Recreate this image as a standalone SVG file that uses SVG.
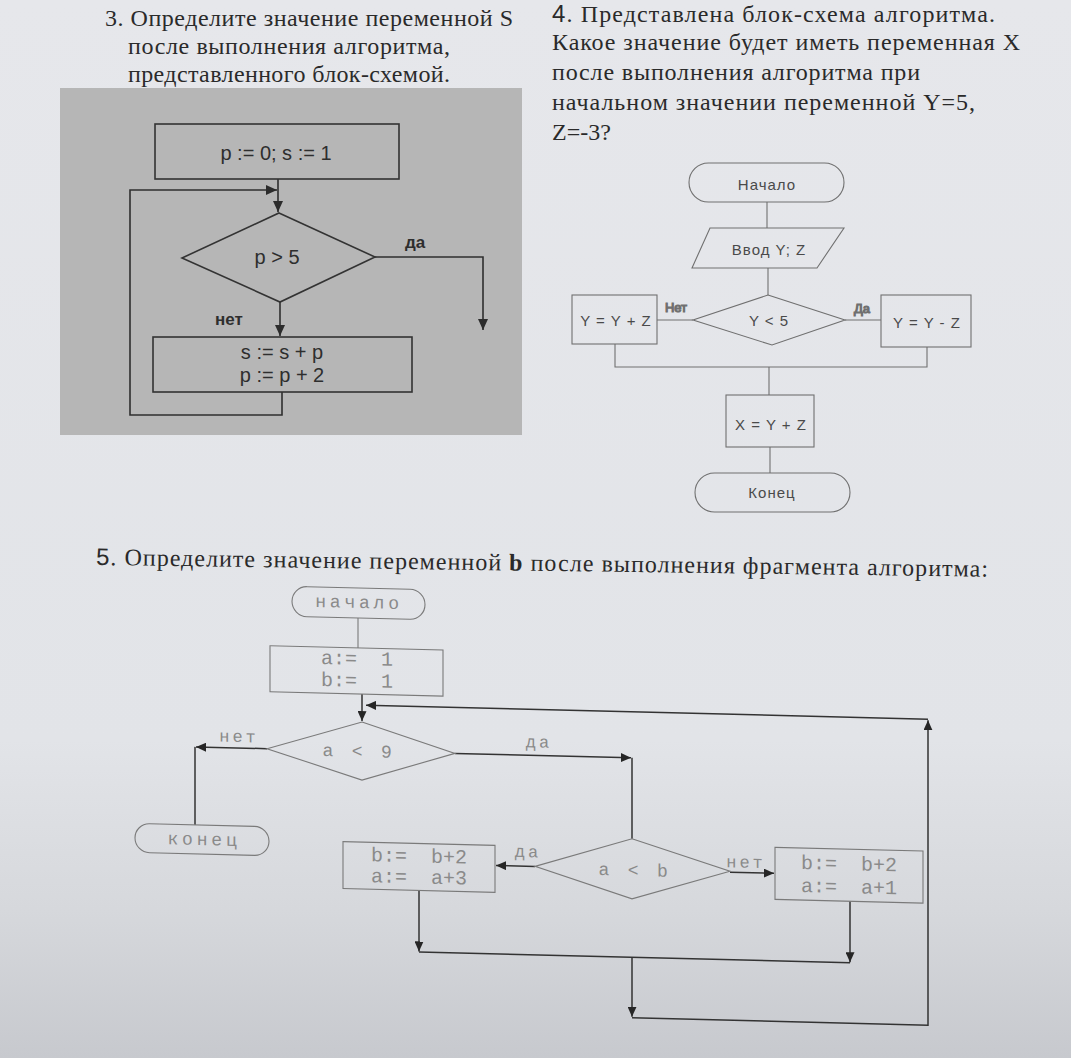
<svg xmlns="http://www.w3.org/2000/svg" width="1071" height="1058" viewBox="0 0 1071 1058">
<defs>
<linearGradient id="page" x1="0" y1="0" x2="0" y2="1">
<stop offset="0" stop-color="#e6e7eb"/>
<stop offset="0.7" stop-color="#e2e4e8"/>
<stop offset="0.86" stop-color="#d6d8dc"/>
<stop offset="1" stop-color="#c7c9ce"/>
</linearGradient>
<marker id="ah3" markerUnits="userSpaceOnUse" markerWidth="12" markerHeight="10" refX="11" refY="5" orient="auto"><path d="M0,0 L11,5 L0,10 Z" fill="#2c2c2c"/></marker>
<marker id="ah5" markerUnits="userSpaceOnUse" markerWidth="11" markerHeight="9" refX="10" refY="4.5" orient="auto"><path d="M0,0 L10,4.5 L0,9 Z" fill="#262626"/></marker>
<style>
.q{font-family:"Liberation Serif","Times New Roman",serif;font-size:24px;fill:#2a2a2a}
.sans{font-family:"Liberation Sans",Arial,sans-serif}
.b{font-weight:bold}
.d3s{fill:none;stroke:#333;stroke-width:1.6}
.d3c{fill:none;stroke:#2f2f2f;stroke-width:1.6}
.d3t{font-family:"Liberation Sans",Arial,sans-serif;font-size:20px;fill:#2e2e2e;text-anchor:middle}
.d3l{font-family:"Liberation Sans",Arial,sans-serif;font-size:17px;font-weight:bold;fill:#2e2e2e;text-anchor:middle}
.d4s{fill:none;stroke:#707070;stroke-width:1.1}
.d4t{font-family:"Liberation Sans",Arial,sans-serif;font-size:15px;letter-spacing:1px;fill:#4a4a4a;text-anchor:middle}
.d4l{font-family:"Liberation Sans",Arial,sans-serif;font-size:13px;fill:#666;text-anchor:middle}
.d5s{fill:none;stroke:#7a7a7a;stroke-width:1.1}
.d5c{fill:none;stroke:#333;stroke-width:1.5}
.d5t{font-family:"Liberation Mono","Courier New",monospace;font-size:18px;letter-spacing:3.8px;fill:#8a8a8a;text-anchor:middle}
.d5a{font-family:"Liberation Mono","Courier New",monospace;font-size:20px;fill:#8a8a8a;text-anchor:middle;white-space:pre}
.d5l{font-family:"Liberation Mono","Courier New",monospace;font-size:17px;letter-spacing:3px;fill:#8a8a8a;text-anchor:middle}
</style>
</defs>
<rect width="1071" height="1058" fill="url(#page)"/>

<g id="q3-question" class="q">
<text x="105" y="26" textLength="408">3. Определите значение переменной S</text>
<text x="128" y="54" textLength="322">после выполнения алгоритма,</text>
<text x="128" y="82" textLength="322">представленного блок-схемой.</text>
</g>

<g id="q4-question" class="q">
<text x="552" y="22" textLength="443"><tspan class="sans">4</tspan>. Представлена блок-схема алгоритма.</text>
<text x="552" y="50" textLength="468">Какое значение будет иметь переменная X</text>
<text x="552" y="80" textLength="368">после выполнения алгоритма при</text>
<text x="552" y="110" textLength="423">начальном значении переменной Y=5,</text>
<text x="552" y="140">Z=-3?</text>
</g>

<!-- Diagram 3 -->
<rect id="d3-background" x="60" y="88" width="462" height="347" fill="#b6b6b6"/>
<g id="d3-connectors">
<path class="d3c" d="M278,179 V212" marker-end="url(#ah3)"/>
<path class="d3c" d="M282,392 V415 H130 V190 H277" marker-end="url(#ah3)"/>
<path class="d3c" d="M375,257 H483 V330" marker-end="url(#ah3)"/>
<path class="d3c" d="M280,302 V336" marker-end="url(#ah3)"/>
<text class="d3l" x="415" y="248">да</text>
<text class="d3l" x="229" y="325">нет</text>
</g>
<g id="d3-init">
<rect class="d3s" x="155" y="124" width="244" height="55"/>
<text class="d3t" x="276" y="160">p := 0; s := 1</text>
</g>
<g id="d3-cond">
<polygon class="d3s" points="279,213 375,257 280,302 182,258"/>
<text class="d3t" x="277" y="264">p &gt; 5</text>
</g>
<g id="d3-body">
<rect class="d3s" x="153" y="337" width="259" height="55"/>
<text class="d3t" x="282" y="359">s := s + p</text>
<text class="d3t" x="282" y="382">p := p + 2</text>
</g>

<!-- Diagram 4 -->
<g id="d4-connectors" class="d4s">
<path d="M767,202 V228"/>
<path d="M768,268 V295"/>
<path d="M693,320 H657"/>
<path d="M845,320 H881"/>
<path d="M615,344 V367 H927 V347"/>
<path d="M769,367 V395"/>
<path d="M770,447 V473"/>
<text class="d4l" x="676" y="312">Нет</text>
<text class="d4l" x="862" y="313">Да</text>
</g>
<g id="d4-start">
<rect class="d4s" x="689" y="163" width="155" height="39" rx="19.5"/>
<text class="d4t" x="767" y="190">Начало</text>
</g>
<g id="d4-input">
<polygon class="d4s" points="710,228 844,228 817,268 692,268"/>
<text class="d4t" x="769" y="255">Ввод Y; Z</text>
</g>
<g id="d4-cond">
<polygon class="d4s" points="768,295 845,320 772,345 693,320"/>
<text class="d4t" x="769" y="326">Y &lt; 5</text>
</g>
<g id="d4-no">
<rect class="d4s" x="572" y="295" width="85" height="49"/>
<text class="d4t" x="616" y="326">Y = Y + Z</text>
</g>
<g id="d4-yes">
<rect class="d4s" x="881" y="295" width="90" height="52"/>
<text class="d4t" x="927" y="328">Y = Y - Z</text>
</g>
<g id="d4-calc">
<rect class="d4s" x="726" y="395" width="88" height="52"/>
<text class="d4t" x="771" y="430">X = Y + Z</text>
</g>
<g id="d4-end">
<rect class="d4s" x="695" y="473" width="155" height="39" rx="19.5"/>
<text class="d4t" x="772" y="498">Конец</text>
</g>

<!-- Question 5 -->
<g id="q5-question" class="q" transform="rotate(0.75 96 565)">
<text x="96" y="565" textLength="892"><tspan class="sans">5</tspan>.  Определите значение переменной <tspan class="b">b</tspan> после выполнения фрагмента алгоритма:</text>
</g>

<!-- Diagram 5 (page slightly sheared in the photo) -->
<g id="q5" transform="matrix(1 0.025 0 1 0 -15)">
<g id="d5-connectors">
<path class="d5s" d="M358,624 V654"/>
<path class="d5c" d="M362,700 V727" marker-end="url(#ah5)"/>
<path class="d5c" d="M267,757 H196" marker-end="url(#ah5)"/>
<path class="d5c" d="M195,757 V835"/>
<path class="d5c" d="M455,757 H631" marker-end="url(#ah5)"/>
<path class="d5c" d="M632,757 V838"/>
<path class="d5c" d="M535,868 H496" marker-end="url(#ah5)"/>
<path class="d5c" d="M730,869 H774" marker-end="url(#ah5)"/>
<path class="d5c" d="M419,895 V956" marker-end="url(#ah5)"/>
<path class="d5c" d="M850,895 V956" marker-end="url(#ah5)"/>
<path class="d5c" d="M419,956.5 H850"/>
<path class="d5c" d="M632,956.5 V1016" marker-end="url(#ah5)"/>
<path class="d5c" d="M632,1017 H928 V712" marker-end="url(#ah5)"/>
<path class="d5c" d="M928,711 H366" marker-end="url(#ah5)"/>
<text class="d5l" x="239" y="751">нет</text>
<text class="d5l" x="539" y="749">да</text>
<text class="d5l" x="528" y="859">да</text>
<text class="d5l" x="746" y="864">нет</text>
</g>
<g id="d5-start">
<rect class="d5s" x="292" y="594" width="133" height="30" rx="15"/>
<text class="d5t" x="359" y="614">начало</text>
</g>
<g id="d5-init">
<rect class="d5s" x="270" y="654" width="173" height="46"/>
<text class="d5a" x="357" y="671" xml:space="preserve">a:=  1</text>
<text class="d5a" x="357" y="693" xml:space="preserve">b:=  1</text>
</g>
<g id="d5-cond1">
<polygon class="d5s" points="362,728 455,757 362,786 267,757"/>
<text class="d5t" x="359" y="763">a &lt; 9</text>
</g>
<g id="d5-end">
<rect class="d5s" x="135" y="835" width="134" height="29" rx="14.5"/>
<text class="d5t" x="204" y="855">конец</text>
</g>
<g id="d5-cond2">
<polygon class="d5s" points="632,838 730,868 632,898 535,868"/>
<text class="d5t" x="635" y="875">a &lt; b</text>
</g>
<g id="d5-yes">
<rect class="d5s" x="343" y="848" width="152" height="47"/>
<text class="d5a" x="419" y="867" xml:space="preserve">b:=  b+2</text>
<text class="d5a" x="419" y="888" xml:space="preserve">a:=  a+3</text>
</g>
<g id="d5-no">
<rect class="d5s" x="775" y="843" width="148" height="52"/>
<text class="d5a" x="849" y="864" xml:space="preserve">b:=  b+2</text>
<text class="d5a" x="849" y="887" xml:space="preserve">a:=  a+1</text>
</g>
</g>
</svg>
